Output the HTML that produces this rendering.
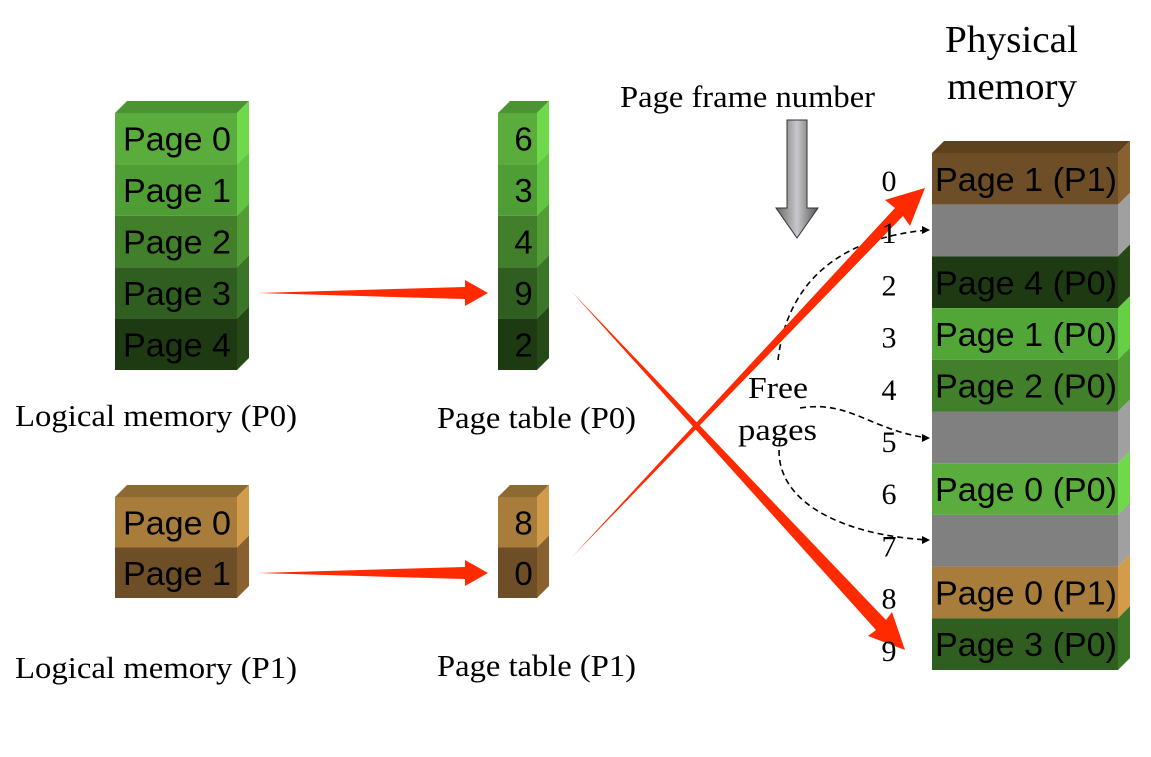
<!DOCTYPE html>
<html><head><meta charset="utf-8"><style>
body{margin:0;background:#fff}
svg{display:block}
.s{font-family:"Liberation Sans",sans-serif;font-size:33px;fill:#000}
.r{font-family:"Liberation Serif",serif;fill:#000}
</style></head><body>
<svg width="1151" height="757" viewBox="0 0 1151 757">
<defs>
<linearGradient id="ga" x1="0" x2="1"><stop offset="0" stop-color="#666"/><stop offset="0.5" stop-color="#c8c8cc"/><stop offset="1" stop-color="#555"/></linearGradient>
</defs>
<g id="blocks"></g>
<text class="r" x="15" y="426" font-size="31" textLength="282" lengthAdjust="spacingAndGlyphs">Logical memory (P0)</text>
<text class="r" x="437" y="428" font-size="31" textLength="199" lengthAdjust="spacingAndGlyphs">Page table (P0)</text>
<text class="r" x="15" y="678" font-size="31" textLength="282" lengthAdjust="spacingAndGlyphs">Logical memory (P1)</text>
<text class="r" x="437" y="676" font-size="31" textLength="199" lengthAdjust="spacingAndGlyphs">Page table (P1)</text>
<text class="r" x="620" y="107" font-size="31" textLength="255" lengthAdjust="spacingAndGlyphs">Page frame number</text>
<text class="r" x="945" y="52" font-size="38" textLength="133" lengthAdjust="spacingAndGlyphs">Physical</text>
<text class="r" x="947" y="99" font-size="38" textLength="130" lengthAdjust="spacingAndGlyphs">memory</text>
<text class="r" x="748" y="398" font-size="31" textLength="60" lengthAdjust="spacingAndGlyphs">Free</text>
<text class="r" x="738" y="440" font-size="31" textLength="79" lengthAdjust="spacingAndGlyphs">pages</text>
<path d="M787 120 H807 V208 H818 L797 238 L776 208 H787 Z" fill="url(#ga)" stroke="#333" stroke-width="1"/>
<g fill="none" stroke="#000" stroke-width="1.6" stroke-dasharray="6,4">
<path d="M778 360 C785 300 820 240 928 230"/>
<path d="M800 408 C850 400 870 430 928 438"/>
<path d="M780 440 C770 500 840 535 928 540"/>
</g>
<g fill="#000"><path d="M930 230 l-8 -4 v8z"/><path d="M930 438 l-8 -4 v8z"/><path d="M930 540 l-8 -4 v8z"/></g>
<g fill="#ff2a00">
<path d="M258 293 L465 287 L465 280 L488 293 L465 306 L465 299 Z"/>
<path d="M258 573 L465 567 L465 560 L488 573 L465 586 L465 579 Z"/>
<path d="M572 292 L886 620 L892 612 L905 650 L868 636 L876 630 Z"/>
<path d="M572 557 L895 208 L885 200 L925 188 L910 226 L903 216 Z"/>
</g>
<g id="nums"></g>
</svg>
<script>
const lp0 = ["Page 0","Page 1","Page 2","Page 3","Page 4"];
const lp0c = ["#5aad3c","#4f9e35","#427f2a","#2f5e20","#1e3a12"];
const pt0 = ["6","3","4","9","2"];
const lp1 = ["Page 0","Page 1"];
const lp1c = ["#a87d3c","#6e4e26"];
const pt1 = ["8","0"];
const phys = ["Page 1 (P1)","","Page 4 (P0)","Page 1 (P0)","Page 2 (P0)","","Page 0 (P0)","","Page 0 (P1)","Page 3 (P0)"];
const physc = ["#6e4e26","#808080","#1e3a12","#52a637","#427f2a","#808080","#5aad3c","#808080","#a87d3c","#2f5e20"];
const NS="http://www.w3.org/2000/svg";
const g=document.getElementById('blocks');
function lighten(c,f){const n=parseInt(c.slice(1),16);let r=n>>16,gg=(n>>8)&255,b=n&255;r=Math.min(255,r*f|0);gg=Math.min(255,gg*f|0);b=Math.min(255,b*f|0);return `rgb(${r},${gg},${b})`;}
function stack(name,x,y,w,h,labels,colors,anchor,tl){
  const d=12;
  const top=document.createElementNS(NS,'path');
  top.setAttribute('d',`M${x} ${y} L${x+d} ${y-d} L${x+w+d} ${y-d} L${x+w} ${y} Z`);
  top.setAttribute('fill',lighten(colors[0],0.85));
  
  
  g.appendChild(top);
  labels.forEach((t,i)=>{
    const yy=y+i*h;
    const r=document.createElementNS(NS,'rect');
    r.setAttribute('x',x);r.setAttribute('y',yy);r.setAttribute('width',w);r.setAttribute('height',h);r.setAttribute('fill',colors[i]);
    
    
    g.appendChild(r);
    const s=document.createElementNS(NS,'path');
    s.setAttribute('d',`M${x+w} ${yy} L${x+w+d} ${yy-d} L${x+w+d} ${yy+h-d} L${x+w} ${yy+h} Z`);
    s.setAttribute('fill',lighten(colors[i],1.25));
    
    
    g.appendChild(s);
    if(t){const tx=document.createElementNS(NS,'text');
    tx.setAttribute('class','s');
    tx.setAttribute('x',anchor==='middle'?x+w/2+6:x+(tl>120?3:8));tx.setAttribute('y',yy+h/2+12);
    if(anchor==='middle')tx.setAttribute('text-anchor','middle');
    else{tx.setAttribute('textLength',tl);tx.setAttribute('lengthAdjust','spacingAndGlyphs');}
    tx.textContent=t;
    
    
    g.appendChild(tx);}
  });
}
stack('logical-p0',115,113,122,51.4,lp0,lp0c,'start',108);
stack('page-table-p0',498,113,39,51.4,pt0,lp0c,'middle');
stack('logical-p1',115,497,122,50.5,lp1,lp1c,'start',108);
stack('page-table-p1',498,497,39,50.5,pt1,lp1c,'middle');
stack('physical-memory',932,153,186,51.7,phys,physc,'start',182);
const nums=document.getElementById('nums');
phys.forEach((_,i)=>{
  const t=document.createElementNS(NS,'text');
  t.setAttribute('class','r');t.setAttribute('font-size','30');
  t.setAttribute('x',889);t.setAttribute('y',153+i*52.2+38);t.setAttribute('text-anchor','middle');
  t.textContent=String(i);
  
  
  nums.appendChild(t);
});
</script>
</body></html>
